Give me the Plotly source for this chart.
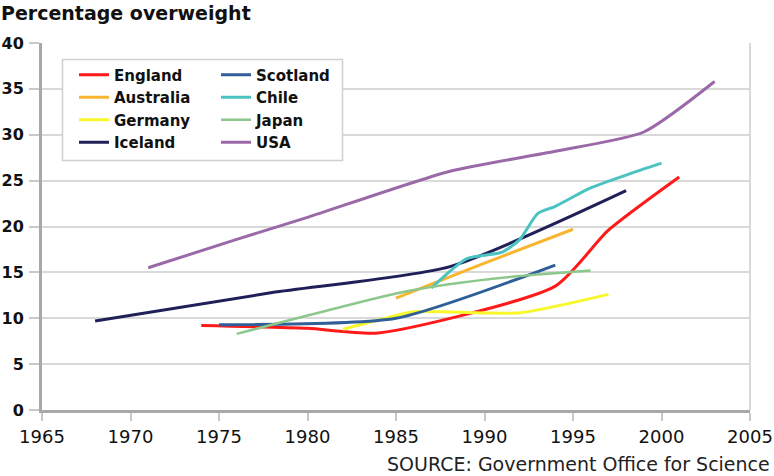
import plotly.graph_objects as go

# ---- data ----
england_years = [1974, 1980, 1984, 1994, 1997, 2001]
england_vals = [9.2, 8.9, 8.4, 13.5, 19.6, 25.4]

australia_years = [1985, 1990, 1995]
australia_vals = [12.2, 16.0, 19.7]

germany_years = [1982, 1984, 1986, 1992, 1997]
germany_vals = [8.8, 9.8, 10.7, 10.6, 12.6]

iceland_years = [1968, 1978, 1988, 1998]
iceland_vals = [9.7, 12.8, 15.6, 23.9]

scotland_years = [1975, 1985, 1994]
scotland_vals = [9.3, 10.0, 15.8]

chile_years = [1987, 1989, 1991, 1992, 1993, 1994, 1996, 1998, 2000]
chile_vals = [13.3, 16.5, 17.2, 18.6, 21.4, 22.2, 24.2, 25.6, 26.9]

japan_years = [1976, 1980, 1985, 1988, 1992, 1996]
japan_vals = [8.3, 10.3, 12.7, 13.7, 14.6, 15.2]

usa_years = [1971, 1976, 1980, 1988, 1994, 1999, 2003]
usa_vals = [15.5, 18.6, 21.0, 26.0, 28.2, 30.3, 35.8]

x_ticks = [1965, 1970, 1975, 1980, 1985, 1990, 1995, 2000, 2005]
y_ticks = [0, 5, 10, 15, 20, 25, 30, 35, 40]

series = [
    ("England", england_years, england_vals, "#ff1a1a", 3, "legend"),
    ("Australia", australia_years, australia_vals, "#f8b530", 3, "legend"),
    ("Germany", germany_years, germany_vals, "#f7f72a", 3, "legend"),
    ("Iceland", iceland_years, iceland_vals, "#202058", 3, "legend"),
    ("Scotland", scotland_years, scotland_vals, "#2f5f98", 3, "legend2"),
    ("Chile", chile_years, chile_vals, "#4cc3c3", 3, "legend2"),
    ("Japan", japan_years, japan_vals, "#8cc78c", 2.5, "legend2"),
    ("USA", usa_years, usa_vals, "#9a69a8", 3, "legend2"),
]

fig = go.Figure()
for name, xs, ys, col, w, lg in series:
    fig.add_trace(go.Scatter(
        x=xs, y=ys, name=name, mode="lines",
        line=dict(color=col, width=w, shape="spline", smoothing=0.6),
        legend=lg,
    ))

FONT = "DejaVu Sans"
L, R, T, B = 42, 24, 43, 66
W, H = 774, 476

def px_to_paper_x(px):
    return (px - L) / (W - L - R)

def px_to_paper_y(py):
    return 1 - (py - T) / (H - T - B)

legend_common = dict(
    font=dict(family=FONT, size=15, color="#111111", weight="bold"),
    bgcolor="rgba(0,0,0,0)", borderwidth=0,
    xanchor="left", yanchor="top", orientation="v",
    itemwidth=30, tracegroupgap=0,
)

fig.update_layout(
    width=W, height=H,
    margin=dict(l=L, r=R, t=T, b=B, autoexpand=False),
    paper_bgcolor="white", plot_bgcolor="white",
    showlegend=True,
    legend=dict(**legend_common, x=px_to_paper_x(74), y=px_to_paper_y(58.5)),
    legend2=dict(**legend_common, x=px_to_paper_x(216), y=px_to_paper_y(58.5)),
    xaxis=dict(
        range=[1965, 2005], tickvals=x_ticks, ticktext=[str(v) for v in x_ticks],
        showgrid=False, zeroline=False, automargin=False,
        showline=True, linecolor="#a8a8a8", linewidth=3,
        ticks="outside", ticklen=8, tickwidth=2, tickcolor="#c8c8c8",
        tickfont=dict(family=FONT, size=18, color="#111111"),
        mirror=False,
    ),
    yaxis=dict(
        range=[0, 40], tickvals=y_ticks, automargin=False,
        showgrid=True, gridcolor="#d9d9d9", gridwidth=2,
        zeroline=False,
        showline=True, linecolor="#a8a8a8", linewidth=3,
        ticks="outside", ticklen=10, tickwidth=2, tickcolor="#c8c8c8",
        tickfont=dict(family=FONT, size=16, color="#111111", weight="bold"),
        ticklabelstandoff=2,
    ),
    shapes=[
        dict(type="line", xref="paper", yref="paper", x0=1, x1=1, y0=0, y1=1,
             line=dict(color="#d9d9d9", width=2)),
        dict(type="rect", xref="paper", yref="paper",
             x0=px_to_paper_x(62.5), x1=px_to_paper_x(342.5),
             y0=px_to_paper_y(160.5), y1=px_to_paper_y(59.5),
             fillcolor="white", line=dict(color="#d0d0d0", width=1.5), layer="above"),
    ],
    annotations=[
        dict(text="Percentage overweight", xref="paper", yref="paper",
             x=px_to_paper_x(-1), y=px_to_paper_y(0), xanchor="left", yanchor="top",
             showarrow=False, font=dict(family=FONT, size=19, color="#111111", weight="bold")),
        dict(text="SOURCE: Government Office for Science", xref="paper", yref="paper",
             x=px_to_paper_x(772), y=px_to_paper_y(477), xanchor="right", yanchor="bottom",
             showarrow=False, font=dict(family=FONT, size=19, color="#222222")),
    ],
)

fig.write_html("out.html", config={"displayModeBar": False},
               post_script="document.body.style.margin='0';document.body.style.padding='0';")
